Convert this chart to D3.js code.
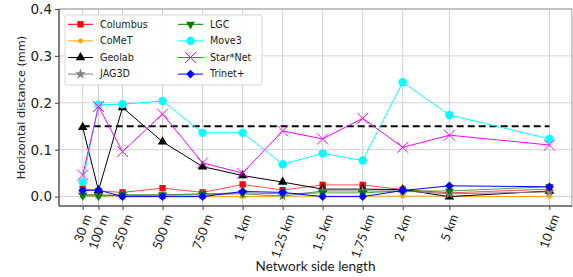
<!DOCTYPE html>
<meta charset="utf-8">
<style>
body { margin: 0; background: #fff; }
.grid line { stroke: #d0d0d0; stroke-width: 1; }
.legend text { font-family: "DejaVu Sans", sans-serif; font-size: 9.6px; fill: #222; }
</style>
<svg width="573" height="277"></svg>
<script src="https://cdn.jsdelivr.net/npm/d3@7"></script>
<script>

// side length of the network, in metres
var sideLength = [30, 100, 250, 500, 750, 1000, 1250, 1500, 1750, 2000, 5000, 10000];
var tickLabels = ["30 m", "100 m", "250 m", "500 m", "750 m", "1 km", "1.25 km", "1.5 km", "1.75 km", "2 km", "5 km", "10 km"];
var yTicks = [0.0, 0.1, 0.2, 0.3, 0.4];
var threshold = 0.15;

var seriesNames = ["Columbus", "CoMeT", "Geolab", "JAG3D", "LGC", "Move3", "Star*Net", "Trinet+"];
var columbus = [0.017, 0.012, 0.009, 0.018, 0.009, 0.026, 0.014, 0.025, 0.025, 0.015, 0.008, 0.016];
var comet    = [0.002, 0.001, 0.001, 0.001, 0.001, 0.000, 0.001, 0.001, 0.001, 0.001, 0.001, 0.000];
var geolab   = [0.148, 0.013, 0.190, 0.117, 0.064, 0.045, 0.031, 0.016, 0.016, 0.015, 0.000, 0.012];
var jag3d    = [0.005, 0.004, 0.002, 0.003, 0.004, 0.006, 0.001, 0.012, 0.012, 0.012, 0.006, 0.010];
var lgc      = [0.002, 0.001, 0.004, 0.004, 0.006, 0.008, 0.006, 0.008, 0.008, 0.012, 0.012, 0.021];
var move3    = [0.031, 0.196, 0.197, 0.204, 0.136, 0.136, 0.069, 0.092, 0.077, 0.244, 0.174, 0.123];
var starnet  = [0.046, 0.192, 0.096, 0.176, 0.072, 0.050, 0.140, 0.123, 0.167, 0.105, 0.131, 0.110];
var trinet   = [0.013, 0.014, 0.000, 0.000, 0.000, 0.011, 0.009, 0.000, 0.000, 0.013, 0.023, 0.021];
var seriesValues = [columbus, comet, geolab, jag3d, lgc, move3, starnet, trinet];

var colors = ["#ff0000", "#ffa500", "#000000", "#808080", "#008000", "#00ffff", "#ff00ff", "#0000ff"];

var svg = d3.select("svg"),
    margin = {top: 9, right: 1, bottom: 71, left: 59},
    width = 573 - margin.left - margin.right,
    height = 277 - margin.top - margin.bottom;

var g = svg.append("g").attr("transform", "translate(" + margin.left + "," + margin.top + ")");

// the axis is linear up to 2 km, then compressed for 5 and 10 km
var x = d3.scaleLinear()
    .domain([30, 100, 2000, 5000, 10000])
    .range([width * 0.0462, width * 0.077, width * 0.670, width * 0.761, width * 0.956]);

var y = d3.scaleLinear()
    .domain([-0.02, 0.4])
    .range([height, 0]);

// grid
var grid = g.append("g").attr("class", "grid");
grid.selectAll(".vg").data(sideLength).enter().append("line")
    .attr("x1", function(d) { return x(d); }).attr("x2", function(d) { return x(d); })
    .attr("y1", 0).attr("y2", height);
grid.selectAll(".hg").data(yTicks).enter().append("line")
    .attr("x1", 0).attr("x2", width)
    .attr("y1", function(d) { return y(d); }).attr("y2", function(d) { return y(d); });

// y axis
var yAxis = g.append("g")
    .call(d3.axisLeft(y).tickValues(yTicks).tickSize(4).tickPadding(3).tickFormat(d3.format(".1f")));
yAxis.select(".domain").remove();
yAxis.selectAll("line").attr("stroke", "#444");
yAxis.selectAll("text").attr("font-family", "DejaVu Sans, sans-serif").attr("font-size", "13.5px").attr("fill", "#222");

// x axis
var xAxis = g.append("g")
    .attr("transform", "translate(0," + height + ")")
    .call(d3.axisBottom(x).tickValues(sideLength).tickSize(4).tickFormat(function(d, i) { return tickLabels[i]; }));
xAxis.select(".domain").remove();
xAxis.selectAll("line").attr("stroke", "#444");
var angle = 70 * Math.PI / 180;
xAxis.selectAll("text")
    .attr("font-family", "Lato, sans-serif")
    .attr("font-size", "12.8px")
    .attr("fill", "#222")
    .attr("text-anchor", "middle")
    .attr("dominant-baseline", "central")
    .attr("dy", null)
    .attr("y", null)
    .each(function() {
      var L = this.getComputedTextLength(), h = 9;
      var H = L * Math.sin(angle) + h * Math.cos(angle);
      d3.select(this).attr("transform", "translate(-1," + (7 + H / 2) + ") rotate(-70)");
    });

// spines
g.append("line").attr("x1", 0).attr("x2", width).attr("y1", 0).attr("y2", 0).attr("stroke", "#999").attr("stroke-width", 1);
g.append("line").attr("x1", width).attr("x2", width).attr("y1", 0).attr("y2", height).attr("stroke", "#999").attr("stroke-width", 1);
g.append("line").attr("x1", 0).attr("x2", 0).attr("y1", 0).attr("y2", height).attr("stroke", "#555").attr("stroke-width", 1.5);
g.append("line").attr("x1", 0).attr("x2", width).attr("y1", height).attr("y2", height).attr("stroke", "#555").attr("stroke-width", 1.5);

// threshold line
g.append("line")
    .attr("x1", x(sideLength[0])).attr("x2", x(sideLength[sideLength.length - 1]))
    .attr("y1", y(threshold)).attr("y2", y(threshold))
    .attr("stroke", "#000").attr("stroke-width", 2).attr("stroke-dasharray", "7,4");

// markers
var timesSymbol = d3.symbolTimes || d3.symbolX;
function marker(sel, i) {
  var c = colors[i];
  if (i === 0) sel.append("path").attr("d", d3.symbol(d3.symbolSquare, 40)()).attr("fill", c);
  else if (i === 1) sel.append("circle").attr("r", 2.4).attr("fill", c);
  else if (i === 2) sel.append("path").attr("d", d3.symbol(d3.symbolTriangle, 40)()).attr("fill", c);
  else if (i === 3) sel.append("path").attr("d", d3.symbol(d3.symbolStar, 36)()).attr("fill", c);
  else if (i === 4) sel.append("path").attr("d", d3.symbol(d3.symbolTriangle, 34)()).attr("transform", "rotate(180)").attr("fill", c);
  else if (i === 5) sel.append("circle").attr("r", 4.2).attr("fill", c);
  else if (i === 6) sel.append("path").attr("d", d3.symbol(timesSymbol, 80)())
      .style("fill", "none").style("stroke", c).style("stroke-width", "1px");
  else sel.append("path").attr("d", d3.symbol(d3.symbolSquare, 38)()).attr("transform", "rotate(45)").attr("fill", c);
}

var line = d3.line()
    .x(function(d, i) { return x(sideLength[i]); })
    .y(function(d) { return y(d); });

seriesValues.forEach(function(vals, i) {
  var s = g.append("g");
  s.append("path").datum(vals)
      .attr("d", line)
      .attr("fill", "none")
      .attr("stroke", colors[i])
      .attr("stroke-width", 1)
      .attr("stroke-opacity", i === 0 || i === 4 ? 0.7 : 1);
  s.selectAll(".m").data(vals).enter().append("g")
      .attr("transform", function(d, j) { return "translate(" + x(sideLength[j]) + "," + y(d) + ")"; })
      .each(function() { marker(d3.select(this), i); });
});

// legend
var legend = svg.append("g").attr("class", "legend").attr("transform", "translate(65,15)");
legend.append("rect")
    .attr("width", 197).attr("height", 70).attr("rx", 2)
    .attr("fill", "#fff").attr("fill-opacity", 0.85)
    .attr("stroke", "#d5d5d5");
seriesNames.forEach(function(name, i) {
  var col = Math.floor(i / 4), row = i % 4;
  var item = legend.append("g")
      .attr("transform", "translate(" + (col === 0 ? 3 : 113) + "," + (9.3 + row * 16.6) + ")");
  item.append("line").attr("x1", 0).attr("x2", 25).attr("stroke", colors[i]).attr("stroke-width", 1);
  marker(item.append("g").attr("transform", "translate(12.5,0)"), i);
  item.append("text").attr("x", 32).attr("dy", "0.35em").text(name);
});

// axis titles
svg.append("text")
    .attr("transform", "translate(21," + (margin.top + height / 2) + ") rotate(-90)")
    .attr("text-anchor", "middle")
    .attr("dominant-baseline", "central")
    .attr("font-family", "DejaVu Sans, sans-serif")
    .attr("font-size", "11.3px")
    .attr("fill", "#222")
    .text("Horizontal distance (mm)");

svg.append("text")
    .attr("x", margin.left + width / 2)
    .attr("y", 271)
    .attr("text-anchor", "middle")
    .attr("font-family", "Lato, sans-serif")
    .attr("font-size", "13.5px")
    .attr("fill", "#222")
    .text("Network side length");
</script>
